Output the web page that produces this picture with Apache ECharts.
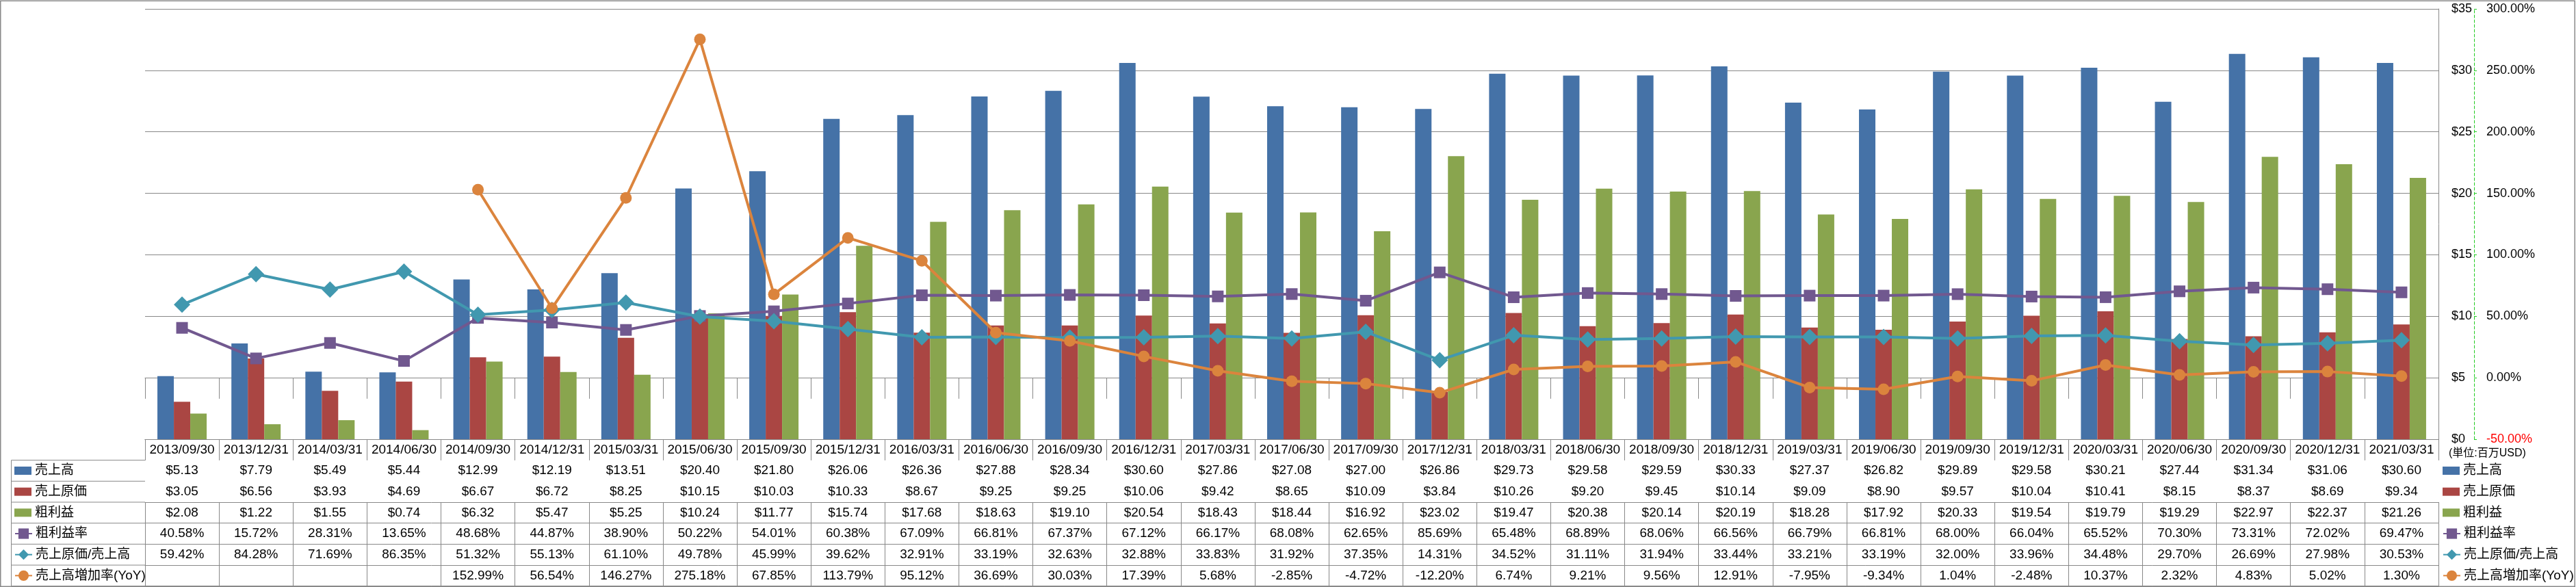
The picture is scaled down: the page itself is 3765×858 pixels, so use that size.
<!DOCTYPE html>
<html><head><meta charset="utf-8">
<script src="https://cdn.jsdelivr.net/npm/echarts@6/dist/echarts.min.js"></script>
<style>html,body{margin:0;padding:0;background:#fff}#c{width:3765px;height:858px}</style>
</head><body><div id="c"></div>
<script>
const categories = ['2013/09/30','2013/12/31','2014/03/31','2014/06/30','2014/09/30','2014/12/31','2015/03/31','2015/06/30','2015/09/30','2015/12/31','2016/03/31','2016/06/30','2016/09/30','2016/12/31','2017/03/31','2017/06/30','2017/09/30','2017/12/31','2018/03/31','2018/06/30','2018/09/30','2018/12/31','2019/03/31','2019/06/30','2019/09/30','2019/12/31','2020/03/31','2020/06/30','2020/09/30','2020/12/31','2021/03/31'];
const sales = [5.13,7.79,5.49,5.44,12.99,12.19,13.51,20.40,21.80,26.06,26.36,27.88,28.34,30.60,27.86,27.08,27.00,26.86,29.73,29.58,29.59,30.33,27.37,26.82,29.89,29.58,30.21,27.44,31.34,31.06,30.60];
const cost = [3.05,6.56,3.93,4.69,6.67,6.72,8.25,10.15,10.03,10.33,8.67,9.25,9.25,10.06,9.42,8.65,10.09,3.84,10.26,9.20,9.45,10.14,9.09,8.90,9.57,10.04,10.41,8.15,8.37,8.69,9.34];
const gross = [2.08,1.22,1.55,0.74,6.32,5.47,5.25,10.24,11.77,15.74,17.68,18.63,19.10,20.54,18.43,18.44,16.92,23.02,19.47,20.38,20.14,20.19,18.28,17.92,20.33,19.54,19.79,19.29,22.97,22.37,21.26];
const grossMargin = [40.58,15.72,28.31,13.65,48.68,44.87,38.90,50.22,54.01,60.38,67.09,66.81,67.37,67.12,66.17,68.08,62.65,85.69,65.48,68.89,68.06,66.56,66.79,66.81,68.00,66.04,65.52,70.30,73.31,72.02,69.47];
const costRatio = [59.42,84.28,71.69,86.35,51.32,55.13,61.10,49.78,45.99,39.62,32.91,33.19,32.63,32.88,33.83,31.92,37.35,14.31,34.52,31.11,31.94,33.44,33.21,33.19,32.00,33.96,34.48,29.70,26.69,27.98,30.53];
const yoy = [null,null,null,null,152.99,56.54,146.27,275.18,67.85,113.79,95.12,36.69,30.03,17.39,5.68,-2.85,-4.72,-12.20,6.74,9.21,9.56,12.91,-7.95,-9.34,1.04,-2.48,10.37,2.32,4.83,5.02,1.30];
const seriesNames = ['売上高','売上原価','粗利益','粗利益率','売上原価/売上高','売上高増加率(YoY)'];
const unitLabel = '(単位:百万USD)';

const COLORS = ['#4572A7','#AA4643','#89A54E','#71588F','#4198AF','#DB843D'];
const FONT = '"Liberation Sans", "Noto Sans CJK JP", sans-serif';
const GRIDC = '#888888';
const W = 3765, H = 858;
const GL = 212, GRX = 3564, GT = 13, GB = 642;
const ROW = 30.67;

const money = v => '$' + v.toFixed(2);
const pct = v => v == null ? '' : v.toFixed(2) + '%';
const tableRows = [categories, sales.map(money), cost.map(money), gross.map(money), grossMargin.map(pct), costRatio.map(pct), yoy.map(pct)];

const xAxes = [];
for (let r = 0; r <= 7; r++) {
  xAxes.push({
    type: 'category', data: categories, position: 'bottom', offset: r * ROW,
    axisLine: { show: true, lineStyle: { color: GRIDC, width: 1 } },
    axisTick: { show: r < 7, interval: 0, length: ROW, lineStyle: { color: GRIDC, width: 1 } },
    axisLabel: { show: r < 7, interval: 0, margin: ROW / 2, verticalAlign: 'middle', fontSize: 19, fontFamily: FONT, color: '#000',
      formatter: (v, i) => tableRows[Math.min(r, 6)][i] },
    splitLine: { show: false }
  });
}

const LCOL = 16.5;
const graphics = [
  { type: 'rect', silent: true, shape: { x: 0.75, y: 1.25, width: W - 2.5, height: H - 2 }, style: { fill: null, stroke: '#8a8a8a', lineWidth: 1.5 } },
  { type: 'line', silent: true, shape: { x1: LCOL, y1: GB + ROW, x2: LCOL, y2: GB + 7 * ROW }, style: { stroke: GRIDC, lineWidth: 1 } },
  { type: 'text', silent: true, x: 3579, y: 663, style: { text: unitLabel, font: '16px ' + FONT, fill: '#000', verticalAlign: 'middle' } }
];
for (let r = 1; r <= 7; r++) {
  graphics.push({ type: 'line', silent: true, shape: { x1: LCOL, y1: GB + r * ROW, x2: GL, y2: GB + r * ROW }, style: { stroke: GRIDC, lineWidth: 1 } });
}

const legendText = { fontSize: 19, fontFamily: FONT, color: '#000', lineHeight: ROW };
const barLegend = left => ({
  orient: 'vertical', left, top: GB + ROW, padding: 0, itemGap: 0, itemWidth: 25, itemHeight: 12,
  selectedMode: false, data: seriesNames.slice(0, 3).map(n => ({ name: n, icon: 'rect' })), textStyle: legendText
});
const lineLegend = left => ({
  orient: 'vertical', left, top: GB + 4 * ROW, padding: 0, itemGap: 0, itemWidth: 25, itemHeight: 19,
  selectedMode: false, data: seriesNames.slice(3), textStyle: legendText
});

const bar = (i, data) => ({ name: seriesNames[i], type: 'bar', xAxisIndex: 0, yAxisIndex: 0, data, barWidth: 24, barGap: '0%',
  itemStyle: { color: COLORS[i] } });
const line = (i, data, symbol, size) => ({ name: seriesNames[i], type: 'line', xAxisIndex: 0, yAxisIndex: 1, data, symbol, symbolSize: size,
  showAllSymbol: true, connectNulls: false, lineStyle: { width: 4, color: COLORS[i] }, itemStyle: { color: COLORS[i] }, z: 5 });

const chart = echarts.init(document.getElementById('c'), null, { renderer: 'canvas' });
chart.setOption({
  animation: false,
  backgroundColor: '#fff',
  grid: { left: GL, right: W - GRX, top: GT, bottom: H - GB, containLabel: false },
  xAxis: xAxes,
  yAxis: [
    { type: 'value', min: 0, max: 35, interval: 5, position: 'right', offset: 52,
      axisLine: { show: false }, axisTick: { show: false },
      axisLabel: { inside: true, align: 'left', margin: 33, fontSize: 18, fontFamily: FONT, color: '#000', formatter: v => '$' + v },
      splitLine: { show: true, lineStyle: { color: GRIDC, width: 1 } } },
    { type: 'value', min: -50, max: 300, interval: 50, position: 'right', offset: 52,
      axisLine: { show: true, lineStyle: { color: '#22cc22', type: [4, 3], width: 1 } },
      axisTick: { show: true, inside: false, length: 4, lineStyle: { color: '#22cc22' } },
      axisLabel: { margin: 18, fontSize: 18, fontFamily: FONT, color: '#000',
        formatter: v => v < 0 ? '{neg|' + v.toFixed(2) + '%}' : v.toFixed(2) + '%',
        rich: { neg: { color: '#ff0000', fontSize: 18, fontFamily: FONT } } },
      splitLine: { show: false } },
    { type: 'value', min: 0, max: 35, interval: 5, position: 'right', offset: 0,
      axisLine: { show: true, lineStyle: { color: GRIDC, width: 1 } }, axisTick: { show: false }, axisLabel: { show: false }, splitLine: { show: false } }
  ],
  legend: [ barLegend(21), lineLegend(21), barLegend(3570), lineLegend(3570) ],
  graphic: graphics,
  series: [
    bar(0, sales), bar(1, cost), bar(2, gross),
    line(3, grossMargin, 'rect', 17),
    line(4, costRatio, 'diamond', 24),
    line(5, yoy, 'circle', 17)
  ]
});
</script></body></html>
